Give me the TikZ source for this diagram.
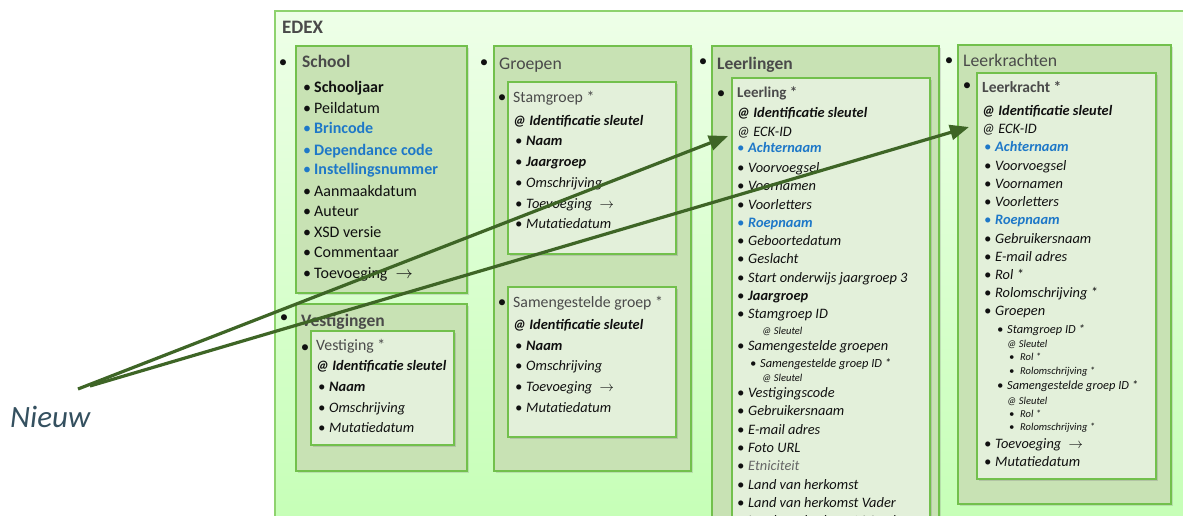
\documentclass[tikz,border=0pt]{standalone}
\usepackage{fontspec}
\setmainfont{Carlito}
\usetikzlibrary{arrows.meta,shadows}

\definecolor{edexfilltop}{HTML}{EEFFE8}
\definecolor{edexfillbot}{HTML}{C2FFB2}
\definecolor{edexline}{HTML}{8ED26E}
\definecolor{midfill}{HTML}{C8E2B4}
\definecolor{innerfill}{HTML}{E3F0DA}
\definecolor{boxline}{HTML}{72C04C}
\definecolor{etext}{HTML}{101010}
\definecolor{etitle}{HTML}{4A4A4A}
\definecolor{eblue}{HTML}{1E78C8}
\definecolor{egray}{HTML}{666666}
\definecolor{pijl}{HTML}{3E6526}
\definecolor{nieuwkleur}{HTML}{34505F}

\newcommand\bl{\makebox[11pt][l]{\textbullet}}
\newcommand\sbl{\makebox[10pt][l]{\textbullet}}
\newcommand\ssbl{\makebox[11pt][l]{\textbullet}}
\newcommand\toev{Toevoeging\enspace$\rightarrow$}

\tikzset{
  midbox/.style={draw=boxline, line width=2.2pt, fill=midfill, anchor=north west, inner sep=0pt,
    drop shadow={shadow xshift=1.5pt, shadow yshift=-1.5pt, opacity=.25}},
  innerbox/.style={draw=boxline, line width=2.2pt, fill=innerfill, anchor=north west, inner sep=0pt,
    drop shadow={shadow xshift=1.5pt, shadow yshift=-1.5pt, opacity=.3}},
  item/.style={anchor=west, inner sep=0pt, text=etext, text height=.7em, text depth=.2em, yshift=-3.5pt,
    font=\fontsize{16}{19}\selectfont},
  itemi/.style={item, font=\fontsize{14.4}{17}\selectfont\itshape},
  subitem/.style={item, font=\fontsize{12.4}{15}\selectfont\itshape},
  tinyitem/.style={item, font=\fontsize{10.5}{12}\selectfont\itshape},
  kop/.style={item, text=etitle, font=\fontsize{17.7}{21}\selectfont},
  subkop/.style={item, text=etitle, font=\fontsize{15.8}{19}\selectfont},
  punt/.style={inner sep=0pt, text=etext, yshift=-1.5pt, font=\fontsize{17}{19}\selectfont},
  nieuwpijl/.style={draw=pijl, line width=3.2pt, -{Triangle[length=19pt, width=15pt]}},
}

\begin{document}
\begin{tikzpicture}[x=1pt, y=-1pt]
  \useasboundingbox (0,0) rectangle (1183,516);
  \clip (0,0) rectangle (1183,516);

  \node[draw=edexline, line width=2pt, top color=edexfilltop, bottom color=edexfillbot,
    anchor=north west, minimum width=1000pt, minimum height=560pt] (edex) at (274,10) {};
  \node[kop, font=\fontsize{19}{22}\selectfont\bfseries] (edexkop) at (282,28) {EDEX};

  \node[midbox, minimum width=171pt, minimum height=247pt] (school) at (295,45) {};
  \node[midbox, minimum width=171pt, minimum height=167pt] (vestigingen) at (295,303) {};
  \node[midbox, minimum width=197pt, minimum height=425pt] (groepen) at (493,45) {};
  \node[midbox, minimum width=227pt, minimum height=520pt] (leerlingen) at (711,45) {};
  \node[midbox, minimum width=213pt, minimum height=459pt] (leerkrachten) at (957,44) {};

  \node[innerbox, minimum width=143pt, minimum height=114pt] (vestiging) at (310,330) {};
  \node[innerbox, minimum width=168pt, minimum height=172pt] (stamgroep) at (507,81) {};
  \node[innerbox, minimum width=168pt, minimum height=150pt] (samengroep) at (507,286) {};
  \node[innerbox, minimum width=198pt, minimum height=480pt] (leerling) at (731,77) {};
  \node[innerbox, minimum width=179pt, minimum height=406pt] (leerkracht) at (976,72) {};

  \foreach \x/\y [count=\i] in {283/62, 484/62, 703/61, 949/60, 284/317, 305/347, 502/97, 502/302, 721/93, 967/85}
    \node[punt] (punt\i) at (\x,\y) {\textbullet};

  \node[kop, font=\fontsize{17.5}{21}\selectfont\bfseries] (schoolkop) at (302,62) {School};
  \node[kop] (groepenkop) at (499,64) {Groepen};
  \node[kop, font=\fontsize{17.5}{21}\selectfont\bfseries] (leerlingenkop) at (717,64) {Leerlingen};
  \node[kop] (leerkrachtenkop) at (963,61) {Leerkrachten};
  \node[kop, font=\fontsize{17.5}{21}\selectfont\bfseries] (vestigingenkop) at (301,320) {Vestigingen};

  \foreach \y/\t [count=\i] in {87/{\bl\bfseries Schooljaar}, 108/{\bl Peildatum},
      128/{\color{eblue}\bl\bfseries Brincode}, 149/{\color{eblue}\bl\bfseries Dependance code},
      169/{\color{eblue}\bl\bfseries Instellingsnummer}, 190/{\bl Aanmaakdatum}, 210/{\bl Auteur},
      231/{\bl XSD versie}, 251/{\bl Commentaar}, 272/{\bl\toev}}
    \node[item] (sch\i) at (303,\y) {\t};

  \node[subkop] (vestigingkop) at (316,344) {Vestiging *};
  \node[itemi, font=\fontsize{14.4}{17}\selectfont\bfseries\itshape] (vstsleutel) at (316,364) {@ Identificatie sleutel};
  \foreach \y/\t [count=\i] in {385/{\bl\bfseries Naam}, 406/{\bl Omschrijving}, 426/{\bl Mutatiedatum}}
    \node[itemi] (vst\i) at (318,\y) {\t};

  \node[subkop] (stamgroepkop) at (513,97) {Stamgroep *};
  \node[itemi, font=\fontsize{14.4}{17}\selectfont\bfseries\itshape] (stgsleutel) at (513,119) {@ Identificatie sleutel};
  \foreach \y/\t [count=\i] in {140/{\bl\bfseries Naam}, 160/{\bl\bfseries Jaargroep}, 181/{\bl Omschrijving},
      202/{\bl\toev}, 222/{\bl Mutatiedatum}}
    \node[itemi] (stg\i) at (515,\y) {\t};

  \node[subkop] (samengroepkop) at (513,301) {Samengestelde groep *};
  \node[itemi, font=\fontsize{14.4}{17}\selectfont\bfseries\itshape] (smgsleutel) at (513,323) {@ Identificatie sleutel};
  \foreach \y/\t [count=\i] in {344/{\bl\bfseries Naam}, 364/{\bl Omschrijving}, 385/{\bl\toev}, 406/{\bl Mutatiedatum}}
    \node[itemi] (smg\i) at (515,\y) {\t};

  \node[subkop, font=\fontsize{15}{18}\selectfont\bfseries] (leerlingkop) at (737,92) {Leerling *};
  \node[itemi, font=\fontsize{14.4}{17}\selectfont\bfseries\itshape] (llnsleutel) at (737,112) {@ Identificatie sleutel};
  \node[itemi] (lleck) at (737,130) {@ ECK-ID};
  \foreach \y/\t [count=\i] in {147/{\color{eblue}\bl\bfseries Achternaam}, 166/{\bl Voorvoegsel},
      184/{\bl Voornamen}, 203/{\bl Voorletters}, 221/{\color{eblue}\bl\bfseries Roepnaam},
      239/{\bl Geboortedatum}, 257/{\bl Geslacht}, 276/{\bl Start onderwijs jaargroep 3},
      294/{\bl\bfseries Jaargroep}, 312/{\bl Stamgroep ID}, 344/{\bl Samengestelde groepen},
      391/{\bl Vestigingscode}, 409/{\bl Gebruikersnaam}, 428/{\bl E-mail adres}, 446/{\bl Foto URL},
      464/{\bl\color{egray}Etniciteit}, 483/{\bl Land van herkomst}, 501/{\bl Land van herkomst Vader},
      519/{\bl Land van herkomst Moeder}}
    \node[itemi] (lln\i) at (737,\y) {\t};
  \node[subitem] (llnsub) at (750,361) {\sbl Samengestelde groep ID *};
  \node[tinyitem] (llnsl1) at (762,328) {@ Sleutel};
  \node[tinyitem] (llnsl2) at (762,375) {@ Sleutel};

  \node[subkop, font=\fontsize{15.5}{18}\selectfont\bfseries] (leerkrachtkop) at (982,87) {Leerkracht *};
  \node[itemi, font=\fontsize{14.4}{17}\selectfont\bfseries\itshape] (lkrsleutel) at (982,110) {@ Identificatie sleutel};
  \node[itemi] (lkreck) at (982,128) {@ ECK-ID};
  \foreach \y/\t [count=\i] in {146/{\color{eblue}\bl\bfseries Achternaam}, 164/{\bl Voorvoegsel},
      182/{\bl Voornamen}, 200/{\bl Voorletters}, 218/{\color{eblue}\bl\bfseries Roepnaam},
      237/{\bl Gebruikersnaam}, 255/{\bl E-mail adres}, 273/{\bl Rol *}, 291/{\bl Rolomschrijving *},
      309/{\bl Groepen}, 442/{\bl\toev}, 460/{\bl Mutatiedatum}}
    \node[itemi] (lkr\i) at (984,\y) {\t};
  \foreach \y/\t [count=\i] in {327/{\sbl Stamgroep ID *}, 383/{\sbl Samengestelde groep ID *}}
    \node[subitem] (lkrsub\i) at (997,\y) {\t};
  \foreach \y [count=\i] in {341, 398}
    \node[tinyitem] (lkrsl\i) at (1007,\y) {@ Sleutel};
  \foreach \y/\t [count=\i] in {354/{\ssbl Rol *}, 368/{\ssbl Rolomschrijving *}, 411/{\ssbl Rol *}, 424/{\ssbl Rolomschrijving *}}
    \node[tinyitem] (lkrrol\i) at (1009,\y) {\t};

  \node[item, text=nieuwkleur, yshift=-3pt, font=\fontsize{31}{36}\selectfont\itshape] (nieuw) at (10,418) {Nieuw};

  \coordinate (start1) at (78,389);
  \coordinate (start2) at (90,386);
  \coordinate (tip1) at (728,136);
  \coordinate (tip2) at (969,127);
  \draw[nieuwpijl] (start1) -- (tip1);
  \draw[nieuwpijl] (start2) -- (tip2);
\end{tikzpicture}
\end{document}
